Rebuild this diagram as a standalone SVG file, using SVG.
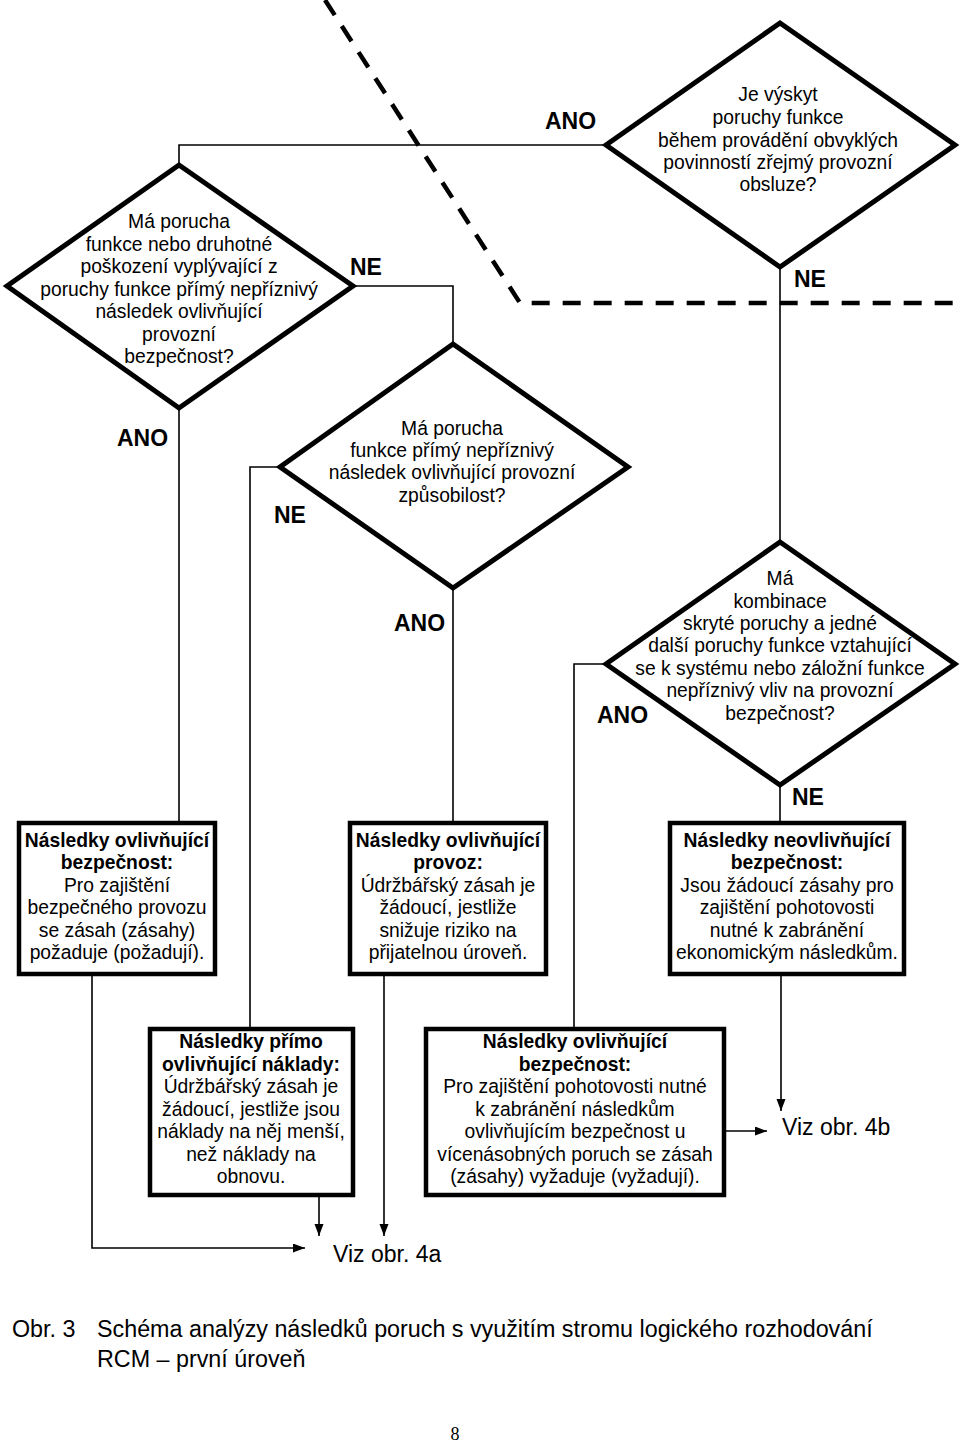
<svg xmlns="http://www.w3.org/2000/svg" width="960" height="1442" viewBox="0 0 960 1442">
<style>
.bg{fill:#fff}
.dia{fill:none;stroke:#000;stroke-width:5;stroke-linejoin:miter}
.box{fill:#fff;stroke:#000;stroke-width:4.5}
.con{fill:none;stroke:#000;stroke-width:1.6}
.dash{fill:none;stroke:#000;stroke-width:4.5;stroke-dasharray:18 13}
.t{font-family:"Liberation Sans",Arial,sans-serif;font-size:19.3px;fill:#000;text-anchor:middle}
.b{font-weight:bold}
.lbl{font-family:"Liberation Sans",Arial,sans-serif;font-size:23px;font-weight:bold;fill:#000}
.viz{font-family:"Liberation Sans",Arial,sans-serif;font-size:23px;fill:#000}
.cap{font-family:"Liberation Sans",Arial,sans-serif;font-size:23.3px;fill:#000}
.pg{font-family:"Liberation Serif","Times New Roman",serif;font-size:18px;fill:#000;text-anchor:middle}
</style>
<defs>
<marker id="arr" markerUnits="userSpaceOnUse" markerWidth="13" markerHeight="10" refX="12" refY="4.5" orient="auto">
<path d="M0,0 L12,4.5 L0,9 z" fill="#000"/>
</marker>
</defs>
<rect class="bg" x="0" y="0" width="960" height="1442"/>

<g id="dashed-divider">
<polyline class="dash" points="325,0 520,303 955,303"/>
</g>

<g id="connectors">
<polyline class="con" points="179,165 179,145 606,145"/>
<polyline class="con" points="353,286 453,286 453,344"/>
<polyline class="con" points="179,408 179,821"/>
<polyline class="con" points="780,267 780,542"/>
<polyline class="con" points="280,467 250,467 250,1027"/>
<polyline class="con" points="453,588 453,821"/>
<polyline class="con" points="606,664 574,664 574,1027"/>
<polyline class="con" points="780,785 780,821"/>
<polyline class="con" points="92,975 92,1248 305,1248" marker-end="url(#arr)"/>
<polyline class="con" points="384,975 384,1236" marker-end="url(#arr)"/>
<polyline class="con" points="319,1197 319,1236" marker-end="url(#arr)"/>
<polyline class="con" points="781,976 781,1111" marker-end="url(#arr)"/>
<polyline class="con" points="726,1131 767,1131" marker-end="url(#arr)"/>
<text class="lbl" x="545" y="129">ANO</text>
<text class="lbl" x="350" y="275">NE</text>
<text class="lbl" x="794" y="287">NE</text>
<text class="lbl" x="117" y="446">ANO</text>
<text class="lbl" x="274" y="523">NE</text>
<text class="lbl" x="394" y="631">ANO</text>
<text class="lbl" x="597" y="723">ANO</text>
<text class="lbl" x="792" y="805">NE</text>
</g>

<g id="d1">
<polygon class="dia" points="179,165 353,286 179,408 7,286"/>
<text class="t" x="179" y="228">Má porucha</text>
<text class="t" x="179" y="250.5">funkce nebo druhotné</text>
<text class="t" x="179" y="273">poškození vyplývající z</text>
<text class="t" x="179" y="295.5">poruchy funkce přímý nepříznivý</text>
<text class="t" x="179" y="318">následek ovlivňující</text>
<text class="t" x="179" y="340.5">provozní</text>
<text class="t" x="179" y="363">bezpečnost?</text>
</g>

<g id="d2">
<polygon class="dia" points="780,23 955,145 780,267 606,145"/>
<text class="t" x="778" y="101">Je výskyt</text>
<text class="t" x="778" y="124">poruchy funkce</text>
<text class="t" x="778" y="147">během provádění obvyklých</text>
<text class="t" x="778" y="169">povinností zřejmý provozní</text>
<text class="t" x="778" y="191">obsluze?</text>
</g>

<g id="d3">
<polygon class="dia" points="453,344 628,467 453,588 280,467"/>
<text class="t" x="452" y="435">Má porucha</text>
<text class="t" x="452" y="457">funkce přímý nepříznivý</text>
<text class="t" x="452" y="479">následek ovlivňující provozní</text>
<text class="t" x="452" y="502">způsobilost?</text>
</g>

<g id="d4">
<polygon class="dia" points="780,542 955,664 780,785 606,664"/>
<text class="t" x="780" y="585">Má</text>
<text class="t" x="780" y="608">kombinace</text>
<text class="t" x="780" y="630">skryté poruchy a jedné</text>
<text class="t" x="780" y="652">další poruchy funkce vztahující</text>
<text class="t" x="780" y="675">se k systému nebo záložní funkce</text>
<text class="t" x="780" y="697">nepříznivý vliv na provozní</text>
<text class="t" x="780" y="720">bezpečnost?</text>
</g>

<g id="box1">
<rect class="box" x="19" y="823" width="196" height="151"/>
<text class="t b" x="117" y="847">Následky ovlivňující</text>
<text class="t b" x="117" y="869">bezpečnost:</text>
<text class="t" x="117" y="892">Pro zajištění</text>
<text class="t" x="117" y="914">bezpečného provozu</text>
<text class="t" x="117" y="937">se zásah (zásahy)</text>
<text class="t" x="117" y="959">požaduje (požadují).</text>
</g>

<g id="box2">
<rect class="box" x="350" y="823" width="196" height="151"/>
<text class="t b" x="448" y="847">Následky ovlivňující</text>
<text class="t b" x="448" y="869">provoz:</text>
<text class="t" x="448" y="892">Údržbářský zásah je</text>
<text class="t" x="448" y="914">žádoucí, jestliže</text>
<text class="t" x="448" y="937">snižuje riziko na</text>
<text class="t" x="448" y="959">přijatelnou úroveň.</text>
</g>

<g id="box3">
<rect class="box" x="670" y="823" width="234" height="151"/>
<text class="t b" x="787" y="847">Následky neovlivňující</text>
<text class="t b" x="787" y="869">bezpečnost:</text>
<text class="t" x="787" y="892">Jsou žádoucí zásahy pro</text>
<text class="t" x="787" y="914">zajištění pohotovosti</text>
<text class="t" x="787" y="937">nutné k zabránění</text>
<text class="t" x="787" y="959">ekonomickým následkům.</text>
</g>

<g id="box4">
<rect class="box" x="150" y="1029" width="203" height="166"/>
<text class="t b" x="251" y="1048">Následky přímo</text>
<text class="t b" x="251" y="1071">ovlivňující náklady:</text>
<text class="t" x="251" y="1093">Údržbářský zásah je</text>
<text class="t" x="251" y="1116">žádoucí, jestliže jsou</text>
<text class="t" x="251" y="1138">náklady na něj menší,</text>
<text class="t" x="251" y="1161">než náklady na</text>
<text class="t" x="251" y="1183">obnovu.</text>
</g>

<g id="box5">
<rect class="box" x="426" y="1029" width="298" height="166"/>
<text class="t b" x="575" y="1048">Následky ovlivňující</text>
<text class="t b" x="575" y="1071">bezpečnost:</text>
<text class="t" x="575" y="1093">Pro zajištění pohotovosti nutné</text>
<text class="t" x="575" y="1116">k zabránění následkům</text>
<text class="t" x="575" y="1138">ovlivňujícím bezpečnost u</text>
<text class="t" x="575" y="1161">vícenásobných poruch se zásah</text>
<text class="t" x="575" y="1183">(zásahy) vyžaduje (vyžadují).</text>
</g>

<g id="viz4a"><text class="viz" x="333" y="1262">Viz obr. 4a</text></g>
<g id="viz4b"><text class="viz" x="782" y="1135">Viz obr. 4b</text></g>

<g id="caption">
<text class="cap" x="12" y="1337">Obr. 3</text>
<text class="cap" x="97" y="1337">Schéma analýzy následků poruch s využitím stromu logického rozhodování</text>
<text class="cap" x="97" y="1367">RCM – první úroveň</text>
<text class="pg" x="455" y="1440">8</text>
</g>
</svg>
